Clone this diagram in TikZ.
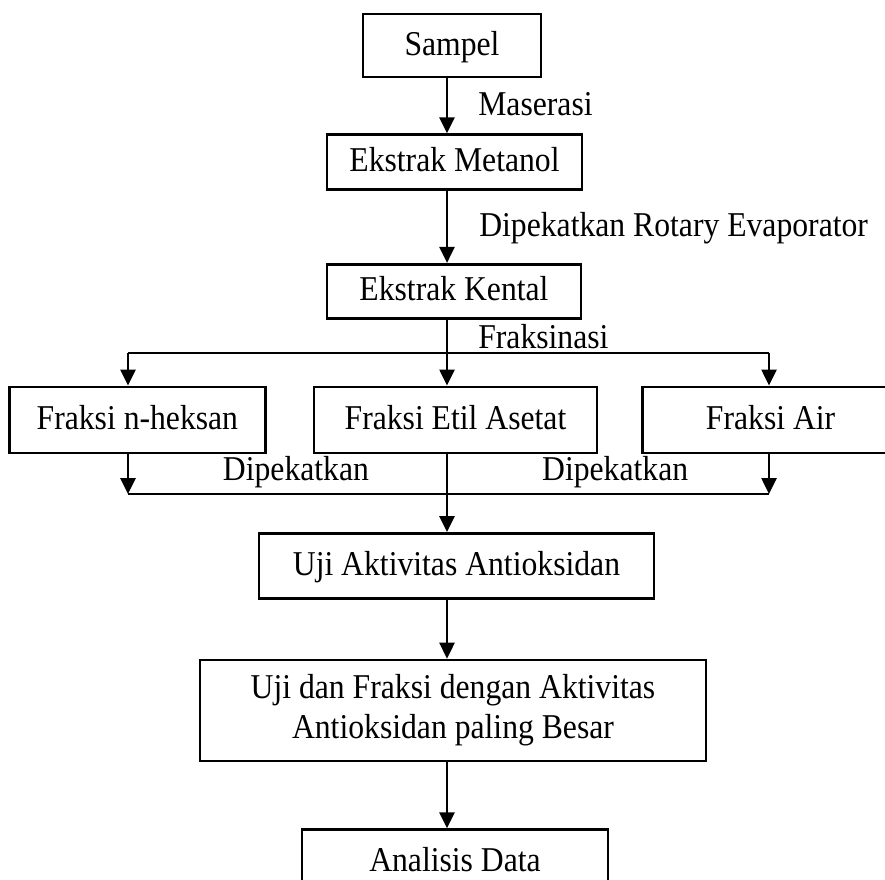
\documentclass[tikz,border=0pt]{standalone}
\usepackage{fontspec}
\setmainfont[FakeStretch=0.91]{Liberation Serif}
\usepackage{tikz}
\usetikzlibrary{arrows.meta,positioning,calc}

\begin{document}
\begin{tikzpicture}[x=1pt, y=-1pt, >={Triangle[length=16pt,width=15pt]},
		boxbase/.style={draw=black, rectangle, line width=2.6pt, inner sep=0pt, align=center, font=\fontsize{34.8}{40}\selectfont},
		stepbox/.style={boxbase, text height=27pt, text depth=8pt},
		widebox/.style={boxbase},
		lbl/.style={draw=none, inner sep=0pt, text height=27pt, text depth=8pt, font=\fontsize{34.8}{40}\selectfont},
		flow/.style={line width=2.6pt, ->, color=black},
		flowline/.style={line width=2.6pt, -, color=black}
		]
		\useasboundingbox (0,0) rectangle (885,879);
		\clip (0,0) rectangle (885,879);
		
		\coordinate (axis) at (447,0);
		
		\node[stepbox, minimum width=178pt, minimum height=63pt](sampel) at (452,45.5) {Sampel};
		\node[stepbox, minimum width=255pt, minimum height=55pt](metanol) [below=55pt of sampel, xshift=2.5pt] {Ekstrak Metanol};
		\node[stepbox, minimum width=254pt, minimum height=54pt](kental) [below=72pt of metanol, xshift=-0.5pt] {Ekstrak Kental};
		
		\node[stepbox, minimum width=283pt, minimum height=66pt](etil) [below=66pt of kental, xshift=1.5pt] {Fraksi Etil Asetat};
		\node[stepbox, minimum width=256pt, minimum height=66pt](heksan) [left=46pt of etil] {Fraksi n-heksan};
		\node[stepbox, minimum width=256pt, minimum height=66pt](air) [right=43pt of etil] {Fraksi Air};
		
		\node[stepbox, minimum width=395pt, minimum height=65pt](uji) [below=78pt of etil, xshift=1pt] {Uji Aktivitas Antioksidan};
		\node[widebox, minimum width=506pt, minimum height=101pt](ujifraksi) [below=59pt of uji, xshift=-3.5pt] {Uji dan Fraksi dengan Aktivitas\\Antioksidan paling Besar};
		\node[stepbox, text height=21pt, minimum width=306pt, minimum height=70pt](analisis) [below=66pt of ujifraksi, xshift=2pt] {Analisis Data};
		
		\coordinate (lsplit) at (128,353);
		\coordinate (rsplit) at (769,353);
		\coordinate (lmerge) at (128,494);
		\coordinate (rmerge) at (769,494);
		
		\draw [flow] (sampel.south -| axis) to [] node[lbl, right=30pt](maserasi){Maserasi} (metanol.north -| axis);
		\draw [flow] (metanol.south -| axis) to [] node[lbl, right=31pt](rotary){Dipekatkan Rotary Evaporator} (kental.north -| axis);
		\draw [flow] (kental.south -| axis) to [] node[lbl, pos=0.3, right=30pt](fraksinasi){Fraksinasi} (etil.north -| axis);
		\draw [flowline] (lsplit) -- (rsplit);
		\draw [flow] (lsplit) -- (lsplit |- heksan.north);
		\draw [flow] (rsplit) -- (rsplit |- air.north);
		
		\draw [flow] (lmerge |- heksan.south) -- (lmerge);
		\draw [flow] (rmerge |- air.south) -- (rmerge);
		\draw [flowline] (lmerge) to [] node[lbl, pos=0.262, above=4pt](dipek1){Dipekatkan} node[lbl, pos=0.76, above=4pt](dipek2){Dipekatkan} (rmerge);
		\draw [flow] (etil.south -| axis) -- (uji.north -| axis);
		\draw [flow] (uji.south -| axis) -- (ujifraksi.north -| axis);
		\draw [flow] (ujifraksi.south -| axis) -- (analisis.north -| axis);
		\end{tikzpicture}
\end{document}
